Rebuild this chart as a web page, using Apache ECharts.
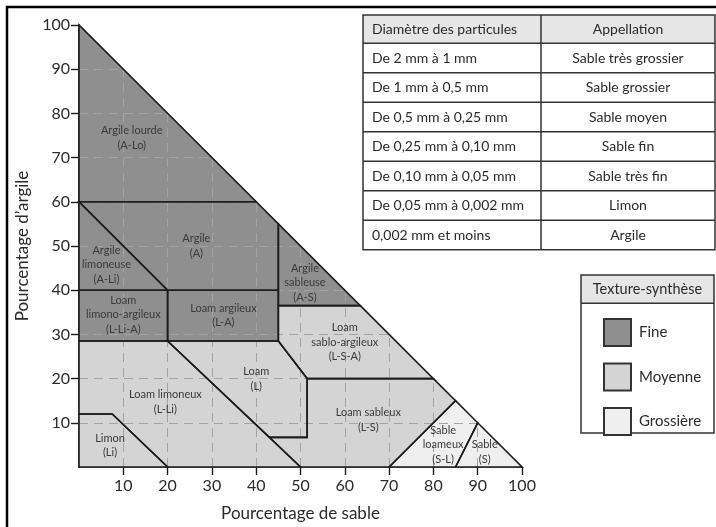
<!DOCTYPE html>
<html>
<head>
<meta charset="utf-8">
<script src="https://cdn.jsdelivr.net/npm/echarts@6/dist/echarts.min.js"></script>
<style>
html, body { margin: 0; padding: 0; background: #fff; }
#chart { width: 716px; height: 527px; }
</style>
</head>
<body>
<div id="chart"></div>
<script>
// axes
const sandTicks = [10, 20, 30, 40, 50, 60, 70, 80, 90, 100];
const clayTicks = [10, 20, 30, 40, 50, 60, 70, 80, 90, 100];
const guideSteps = [10, 20, 30, 40, 50, 60, 70, 80, 90];

// texture classes (legend)
const textureClasses = ['Fine', 'Moyenne', 'Grossière'];

// soil classes : [% sable, % argile] corners
const regionNames = [
  'Argile lourde\n(A-Lo)', 'Argile\n(A)', 'Argile\nlimoneuse\n(A-Li)', 'Argile\nsableuse\n(A-S)',
  'Loam\nlimono-argileux\n(L-Li-A)', 'Loam argileux\n(L-A)', 'Loam\nsablo-argileux\n(L-S-A)',
  'Loam\n(L)', 'Loam limoneux\n(L-Li)', 'Limon\n(Li)', 'Loam sableux\n(L-S)',
  'Sable\nloameux\n(S-L)', 'Sable\n(S)'
];
const regionTexture = [0, 0, 0, 0, 0, 0, 1, 1, 1, 1, 1, 2, 2];
const regionBounds = [
  [[0, 60], [0, 100], [40, 60]],
  [[0, 60], [40, 60], [45, 55], [45, 40], [20, 40]],
  [[0, 60], [20, 40], [0, 40]],
  [[45, 55], [63.5, 36.5], [45, 36.5]],
  [[0, 40], [20, 40], [20, 28.5], [0, 28.5]],
  [[20, 40], [45, 40], [45, 28.5], [20, 28.5]],
  [[45, 36.5], [63.5, 36.5], [80, 20], [51.5, 20], [45, 28.5]],
  [[20, 28.5], [45, 28.5], [51.5, 20], [51.5, 6.7], [43, 6.7]],
  [[0, 28.5], [20, 28.5], [50, 0], [20, 0], [7.5, 12], [0, 12]],
  [[0, 0], [0, 12], [7.5, 12], [20, 0]],
  [[43, 6.7], [51.5, 6.7], [51.5, 20], [80, 20], [85, 15], [70, 0], [50, 0]],
  [[70, 0], [85, 15], [90, 10], [85, 0]],
  [[85, 0], [90, 10], [100, 0]]
];
const regionLabelAt = [
  [11.9, 74.4], [26.5, 50], [6.2, 45.8], [51, 41.7], [10, 34.5], [32.6, 34.3],
  [60, 28.2], [40, 19.9], [19.5, 14.7], [7, 4.9], [65.3, 10.6], [82.2, 5], [91.6, 3.4]
];

// particle size table
const tableHeader = ['Diamètre des particules', 'Appellation'];
const particleSizes = [
  'De 2 mm à 1 mm', 'De 1 mm à 0,5 mm', 'De 0,5 mm à 0,25 mm', 'De 0,25 mm à 0,10 mm',
  'De 0,10 mm à 0,05 mm', 'De 0,05 mm à 0,002 mm', '0,002 mm et moins'
];
const particleNames = [
  'Sable très grossier', 'Sable grossier', 'Sable moyen', 'Sable fin',
  'Sable très fin', 'Limon', 'Argile'
];

const FILLS = ['#8f8f8f', '#d4d4d4', '#efefef'];
const FONT = 'Lato, "Open Sans", sans-serif';
const INK = '#2b2b2b';

const chart = echarts.init(document.getElementById('chart'));

function regionData(filter) {
  const out = [];
  regionBounds.forEach((b, i) => {
    if (filter(i)) out.push([regionLabelAt[i][0], regionLabelAt[i][1], i]);
  });
  return out;
}

const fillSeries = textureClasses.map((name, t) => ({
  name: name,
  type: 'custom',
  z: 1,
  silent: true,
  itemStyle: { color: FILLS[t] },
  encode: { x: 0, y: 1 },
  data: regionData(i => regionTexture[i] === t),
  renderItem: function (params, api) {
    const k = api.value(2);
    return {
      type: 'polygon',
      shape: { points: regionBounds[k].map(p => api.coord(p)) },
      style: { fill: FILLS[t], stroke: FILLS[t], lineWidth: 0.5 }
    };
  }
}));

// dashed guides inside the triangle
const guides = [];
guideSteps.forEach(v => {
  guides.push({ coords: [[v, 0], [v, 100 - v]] });
  guides.push({ coords: [[0, v], [100 - v, v]] });
});

const outlineSeries = {
  type: 'custom',
  name: 'contours',
  z: 3,
  silent: true,
  encode: { x: 0, y: 1 },
  data: regionData(() => true),
  renderItem: function (params, api) {
    const k = api.value(2);
    const c = api.coord([api.value(0), api.value(1)]);
    return {
      type: 'group',
      children: [
        {
          type: 'polygon',
          shape: { points: regionBounds[k].map(p => api.coord(p)) },
          style: { fill: 'none', stroke: '#1c1c1c', lineWidth: 1.6, lineJoin: 'miter' }
        },
        {
          type: 'text',
          x: c[0], y: c[1],
          style: {
            text: regionNames[k], align: 'center', verticalAlign: 'middle',
            fontSize: 11, fontFamily: FONT, fill: '#3a3a3a', lineHeight: 14.5
          }
        }
      ]
    };
  }
};

// table + legend frame
const graphics = [];
graphics.push({
  type: 'rect', z: -10, silent: true,
  shape: { x: 7, y: 7, width: 760, height: 560 },
  style: { fill: 'none', stroke: '#000', lineWidth: 2.5 }
});

const tX = 363, tY = 15, tW = 352, colX = 541, headH = 28.3, rowH = 29.5;
const tH = headH + rowH * particleSizes.length;
graphics.push({ type: 'rect', shape: { x: tX, y: tY, width: tW, height: headH }, style: { fill: '#e6e6e6' } });
graphics.push({ type: 'rect', shape: { x: tX, y: tY, width: tW, height: tH }, style: { fill: 'none', stroke: '#333', lineWidth: 1.5 } });
graphics.push({ type: 'line', shape: { x1: colX, y1: tY, x2: colX, y2: tY + tH }, style: { stroke: '#333', lineWidth: 1.5 } });
graphics.push({ type: 'text', x: tX + 9, y: tY + headH / 2, style: { text: tableHeader[0], fontSize: 14, fontFamily: FONT, fill: INK, verticalAlign: 'middle' } });
graphics.push({ type: 'text', x: (colX + tX + tW) / 2, y: tY + headH / 2, style: { text: tableHeader[1], fontSize: 14, fontFamily: FONT, fill: INK, align: 'center', verticalAlign: 'middle' } });
particleSizes.forEach((s, i) => {
  const top = tY + headH + i * rowH;
  graphics.push({ type: 'line', shape: { x1: tX, y1: top, x2: tX + tW, y2: top }, style: { stroke: '#333', lineWidth: 1.5 } });
  graphics.push({ type: 'text', x: tX + 9, y: top + rowH / 2, style: { text: s, fontSize: 14, fontFamily: FONT, fill: INK, verticalAlign: 'middle' } });
  graphics.push({ type: 'text', x: (colX + tX + tW) / 2, y: top + rowH / 2, style: { text: particleNames[i], fontSize: 14, fontFamily: FONT, fill: INK, align: 'center', verticalAlign: 'middle' } });
});

const lX = 581, lY = 275, lW = 133, lH = 158, lHead = 28.3;
graphics.push({ type: 'rect', shape: { x: lX, y: lY, width: lW, height: lHead }, style: { fill: '#e6e6e6' } });
graphics.push({ type: 'rect', shape: { x: lX, y: lY, width: lW, height: lH }, style: { fill: 'none', stroke: '#333', lineWidth: 1.5 } });
graphics.push({ type: 'line', shape: { x1: lX, y1: lY + lHead, x2: lX + lW, y2: lY + lHead }, style: { stroke: '#333', lineWidth: 1.5 } });
graphics.push({ type: 'text', x: lX + lW / 2, y: lY + lHead / 2, style: { text: 'Texture-synthèse', fontSize: 14.5, fontFamily: FONT, fill: INK, align: 'center', verticalAlign: 'middle' } });

const axisCommon = {
  type: 'value', min: 0, max: 100, interval: 10,
  nameLocation: 'middle',
  nameTextStyle: { fontSize: 17, fontFamily: FONT, color: INK },
  axisLine: { show: true, lineStyle: { color: '#1c1c1c', width: 1.6 } },
  axisTick: { show: true, length: 8, lineStyle: { color: '#1c1c1c', width: 1.4 } },
  splitLine: { show: false }
};

chart.setOption({
  animation: false,
  backgroundColor: '#fff',
  grid: { left: 79, right: 194, top: 25, bottom: 58 },
  xAxis: Object.assign({}, axisCommon, {
    name: 'Pourcentage de sable', nameGap: 38,
    axisTick: Object.assign({}, axisCommon.axisTick, { customValues: sandTicks }),
    axisLabel: { customValues: sandTicks, fontSize: 16, fontFamily: FONT, color: INK, margin: 11 }
  }),
  yAxis: Object.assign({}, axisCommon, {
    name: 'Pourcentage d\u2019argile', nameGap: 41,
    axisTick: Object.assign({}, axisCommon.axisTick, { customValues: clayTicks }),
    axisLabel: { customValues: clayTicks, fontSize: 16, fontFamily: FONT, color: INK, margin: 9 }
  }),
  legend: {
    orient: 'vertical', left: 598, top: 313,
    itemWidth: 27, itemHeight: 27, itemGap: 15.5,
    selectedMode: false,
    textStyle: { fontSize: 15, fontFamily: FONT, color: INK, padding: [0, 0, 0, 3] },
    data: textureClasses.map((n, t) => ({
      name: n, icon: 'rect',
      itemStyle: { color: FILLS[t], borderColor: '#333', borderWidth: 2 }
    }))
  },
  graphic: graphics,
  series: fillSeries.concat([
    {
      type: 'lines',
      coordinateSystem: 'cartesian2d',
      z: 2,
      silent: true,
      polyline: false,
      lineStyle: { color: '#a3a3a3', width: 1, type: [9, 6], opacity: 1 },
      data: guides
    },
    outlineSeries
  ])
});
</script>
</body>
</html>
